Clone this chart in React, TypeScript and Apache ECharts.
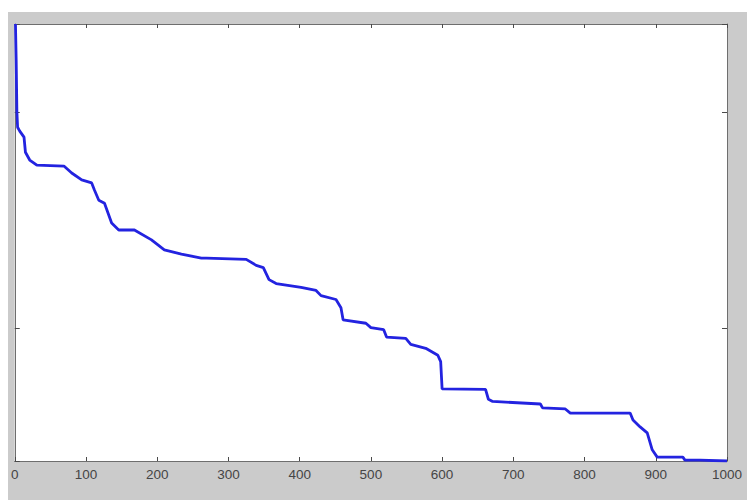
import React, { useEffect, useRef } from "react";
import * as echarts from "echarts";

// x positions (sample index) and y values of the descending curve corners
const xIndex: number[] = [
  1, 2, 3, 4, 7, 13, 15, 21, 31, 69, 80, 94, 108, 112, 118, 126, 136, 146, 168, 192,
  210, 234, 262, 269, 325, 339, 349, 357, 367, 402, 423, 430, 451, 458, 461, 493, 500,
  518, 522, 549, 556, 577, 594, 598, 600, 661, 665, 671, 738, 741, 773, 780, 864, 868,
  878, 888, 895, 902, 938, 941, 962, 1000,
];
const yValue: number[] = [
  1.204, 1.12, 1.0, 0.965, 0.956, 0.942, 0.907, 0.889, 0.877, 0.875, 0.859, 0.843, 0.836,
  0.819, 0.796, 0.789, 0.743, 0.727, 0.727, 0.704, 0.681, 0.671, 0.662, 0.662, 0.659,
  0.645, 0.64, 0.612, 0.603, 0.594, 0.587, 0.575, 0.566, 0.547, 0.519, 0.511, 0.501,
  0.496, 0.479, 0.476, 0.462, 0.453, 0.437, 0.422, 0.359, 0.358, 0.335, 0.33, 0.324,
  0.315, 0.3125, 0.303, 0.303, 0.287, 0.271, 0.257, 0.218, 0.201, 0.201, 0.194, 0.194,
  0.192,
];
const xMin = 0;
const xMax = 1000;
const xStep = 100;
const yMin = 0.192;
const yMax = 1.204;
const yStep = 0.5;

export default function App() {
  const ref = useRef<HTMLDivElement>(null);
  useEffect(() => {
    if (!ref.current) return;
    const chart = echarts.init(ref.current, undefined, { renderer: "svg" });
    const data = xIndex.map((x, i) => [x, yValue[i]]);
    const axisLine = { show: true, onZero: false, lineStyle: { color: "#6e6e6e", width: 1 } };
    const tickStyle = { color: "#4a4a4a", width: 1 };
    const xCommon = {
      type: "value",
      min: xMin,
      max: xMax,
      interval: xStep,
      axisLine,
      axisTick: { show: true, inside: true, length: 4, lineStyle: tickStyle },
      splitLine: { show: false },
    };
    const yCommon = {
      type: "value",
      min: yMin,
      max: yMax,
      splitNumber: 2,
      minInterval: yStep,
      maxInterval: yStep,
      axisLine,
      axisTick: { show: true, inside: true, length: 5, lineStyle: tickStyle },
      axisLabel: { show: false },
      splitLine: { show: false },
    };
    chart.setOption({
      animation: false,
      backgroundColor: "#cbcbcb",
      grid: {
        left: 5,
        top: 12,
        width: 714,
        height: 437,
        show: true,
        backgroundColor: "#ffffff",
        borderWidth: 0,
      },
      xAxis: [
        {
          ...xCommon,
          position: "bottom",
          axisLabel: {
            show: true,
            margin: 6,
            color: "#454545",
            fontSize: 13.5,
            fontFamily: "Liberation Sans, Arial, sans-serif",
            formatter: (v: number) => String(v),
          },
        },
        { ...xCommon, position: "top", axisLabel: { show: false } },
      ],
      yAxis: [
        { ...yCommon, position: "left" },
        { ...yCommon, position: "right" },
      ],
      series: [
        {
          type: "line",
          data,
          xAxisIndex: 0,
          yAxisIndex: 0,
          showSymbol: false,
          symbol: "none",
          lineStyle: { color: "#2323e0", width: 2.8 },
          clip: true,
          z: 1,
        },
      ],
    });
    return () => chart.dispose();
  }, []);
  return (
    <div style={{ position: "absolute", left: 0, top: 0, width: 747, height: 500, background: "#ffffff" }}>
      <div ref={ref} style={{ position: "absolute", left: 8, top: 12, width: 739, height: 488 }} />
    </div>
  );
}
